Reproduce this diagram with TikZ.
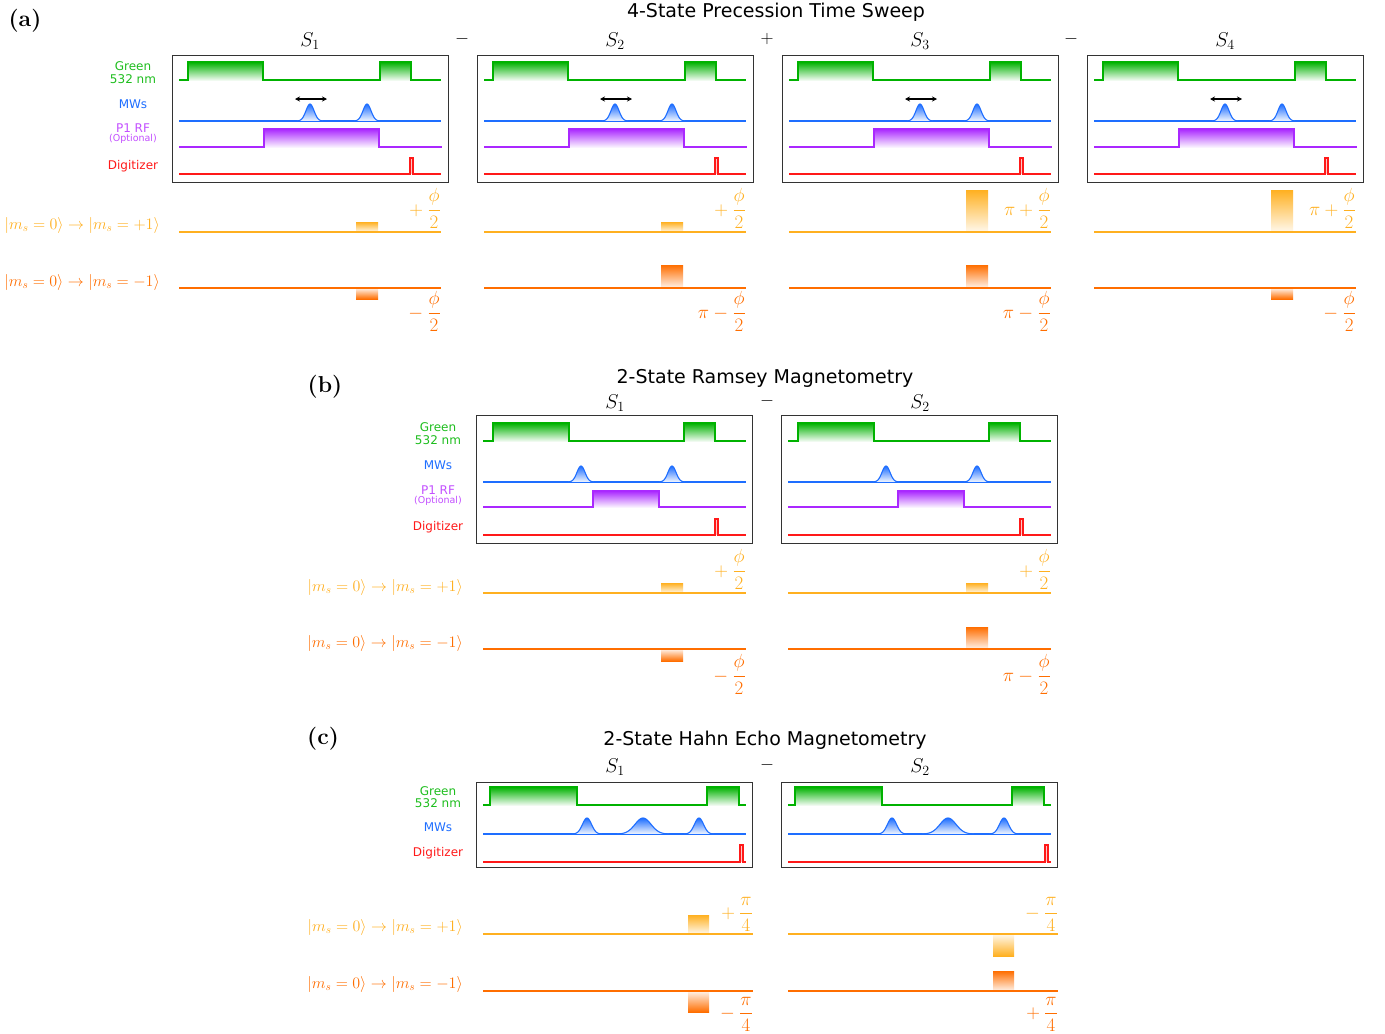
\RequirePackage{fix-cm}
\documentclass[tikz,border=0pt]{standalone}
\usepackage{amsmath}
\usepackage{fontspec}
\newfontfamily\dvsans{DejaVu Sans}
\usetikzlibrary{arrows.meta}

\definecolor{grn}{RGB}{0,178,0}
\definecolor{grntxt}{RGB}{30,190,30}
\definecolor{blu}{RGB}{30,110,255}
\definecolor{pur}{RGB}{170,40,255}
\definecolor{purtxt}{RGB}{195,80,255}
\definecolor{dig}{RGB}{255,25,25}
\definecolor{yel}{RGB}{255,176,32}
\definecolor{org}{RGB}{255,110,0}

% phase fraction with a heavier bar
\newcommand{\phfrac}[2]{\genfrac{}{}{1.4pt}{0}{#1}{#2}}

\tikzset{
  sig/.style={line width=1.1pt, line join=miter},
  frame/.style={draw=black!80, line width=1pt},
  chan/.style={font=\dvsans\fontsize{12}{13}\selectfont, inner sep=0pt},
  optl/.style={font=\dvsans\fontsize{9.5}{10}\selectfont, inner sep=0pt, text=purtxt},
  ttl/.style={font=\dvsans\fontsize{19}{22}\selectfont, inner sep=0pt},
  slab/.style={font=\fontsize{20}{23}\selectfont, inner sep=0pt},
  opr/.style={font=\fontsize{18}{21}\selectfont, inner sep=0pt},
  tag/.style={font=\fontsize{23}{26}\selectfont\bfseries, inner sep=0pt},
  state/.style={font=\fontsize{16}{19}\selectfont, inner sep=0pt, anchor=east},
  frc/.style={font=\fontsize{19}{22}\selectfont, inner sep=0pt, anchor=base east},
}

% green laser trace: #1 left, #2 base, #3 top, #4-#7 pulse edges, #8 trace end
\newcommand{\greentr}[8]{%
  \shade[top color=grn, middle color=grn!85, bottom color=grn!6] ({#1+#4},#3) rectangle ({#1+#5},#2);
  \shade[top color=grn, middle color=grn!85, bottom color=grn!6] ({#1+#6},#3) rectangle ({#1+#7},#2);
  \draw[grn, sig] ({#1+7},#2) -- ({#1+#4},#2) -- ({#1+#4},#3) -- ({#1+#5},#3) -- ({#1+#5},#2)
     -- ({#1+#6},#2) -- ({#1+#6},#3) -- ({#1+#7},#3) -- ({#1+#7},#2) -- ({#1+#8},#2);
}
% RF trace: #1 left, #2 base, #3 top, #4 #5 pulse edges
\newcommand{\rftr}[5]{%
  \shade[top color=pur, middle color=pur!60, bottom color=pur!6] ({#1+#4},#3) rectangle ({#1+#5},#2);
  \draw[pur, sig] ({#1+7},#2) -- ({#1+#4},#2) -- ({#1+#4},#3) -- ({#1+#5},#3) -- ({#1+#5},#2) -- ({#1+270},#2);
}
% digitizer trace: #1 left, #2 base, #3 top, #4 gate start, #5 trace end
\newcommand{\digtr}[5]{%
  \fill[dig!25] ({#1+#4},#3) rectangle ({#1+#4+3},#2);
  \draw[dig, sig] ({#1+7},#2) -- ({#1+#4},#2) -- ({#1+#4},#3) -- ({#1+#4+3},#3) -- ({#1+#4+3},#2) -- ({#1+#5},#2);
}
% microwave pulse: #1 centre, #2 base, #3 height, #4 width
\newcommand{\mwpk}[4]{%
  \shade[top color=blu, bottom color=blu!6] plot[domain=-3.2:3.2, samples=41]
     ({#1+\x*#4},{#2-#3*exp(-0.5*(\x)^2)}) -- cycle;
  \draw[blu, sig] plot[domain=-3.2:3.2, samples=41] ({#1+\x*#4},{#2-#3*exp(-0.5*(\x)^2)});
}
% phase blocks above / below a transition line: x1, x2, line y, far y, colour
\newcommand{\blkup}[5]{\shade[top color=#5, middle color=#5, bottom color=#5!8] (#1,#4) rectangle (#2,#3);}
\newcommand{\blkdn}[5]{\shade[top color=#5!8, middle color=#5, bottom color=#5] (#1,#3) rectangle (#2,#4);}

\begin{document}
\begin{tikzpicture}[x=1pt, y=-1pt]
\useasboundingbox (0,0) rectangle (1385,1034);
\fill[white] (0,0) rectangle (1385,1034);

% ===================== (a) =====================
\node[tag] (tagA) at (25,21) {(a)};
\node[ttl] (ttlA) at (776,12) {4-State Precession Time Sweep};
\node[chan, text=grntxt] (gA1) at (133,66) {Green};
\node[chan, text=grntxt] (gA2) at (133,79) {532 nm};
\node[chan, text=blu] (mA) at (133,104) {MWs};
\node[chan, text=purtxt] (rA1) at (133,128) {P1 RF};
\node[optl] (rA2) at (133,139) {(Optional)};
\node[chan, text=dig] (dA) at (133,166) {Digitizer};
\node[state, text=yel] (pA) at (160,225) {$|m_s = 0\rangle \to |m_s = +1\rangle$};
\node[state, text=org] (nA) at (160,282) {$|m_s = 0\rangle \to |m_s = -1\rangle$};
\node[opr] (opA1) at (462,39) {$-$};
\node[opr] (opA2) at (767,39) {$+$};
\node[opr] (opA3) at (1071,39) {$-$};

\foreach \L/\k in {172/1,477/2,782/3,1087/4}{
  \node[slab] (sA\k) at ({\L+138},41) {$S_{\k}$};
  \greentr{\L}{80}{62}{16}{91}{208}{239}{269}
  \draw[blu, sig] ({\L+7},121) -- ({\L+269},121);
  \mwpk{\L+138}{121}{17}{4}
  \mwpk{\L+195}{121}{17}{4}
  \draw[{Stealth[length=5pt,width=5pt]}-{Stealth[length=5pt,width=5pt]}, line width=1.1pt] ({\L+123},99) -- ({\L+155},99);
  \rftr{\L}{147}{129}{92}{207}
  \digtr{\L}{174}{158}{238}{269}
  \draw[frame] (\L,55) rectangle ({\L+276},182);
}
% phase blocks
\blkup{356}{378}{232}{222}{yel}   \blkdn{356}{378}{288}{299}{org}
\blkup{661}{683}{232}{222}{yel}   \blkup{661}{683}{288}{265}{org}
\blkup{966}{988}{232}{190}{yel}   \blkup{966}{988}{288}{265}{org}
\blkup{1271}{1293}{232}{190}{yel} \blkdn{1271}{1293}{288}{299}{org}
\foreach \L in {172,477,782,1087}{
  \draw[yel, sig] ({\L+7},232) -- ({\L+269},232);
  \draw[org, sig] ({\L+7},288) -- ({\L+269},288);
}
\node[frc, text=yel] (fA1u) at (441,215) {${}+\phfrac{\phi}{2}$};
\node[frc, text=org] (fA1d) at (441,318) {${}-\phfrac{\phi}{2}$};
\node[frc, text=yel] (fA2u) at (746,215) {${}+\phfrac{\phi}{2}$};
\node[frc, text=org] (fA2d) at (746,318) {$\pi-\phfrac{\phi}{2}$};
\node[frc, text=yel] (fA3u) at (1051,215) {$\pi+\phfrac{\phi}{2}$};
\node[frc, text=org] (fA3d) at (1051,318) {$\pi-\phfrac{\phi}{2}$};
\node[frc, text=yel] (fA4u) at (1356,215) {$\pi+\phfrac{\phi}{2}$};
\node[frc, text=org] (fA4d) at (1356,318) {${}-\phfrac{\phi}{2}$};

% ===================== (b) =====================
\node[tag] (tagB) at (325,387) {(b)};
\node[ttl] (ttlB) at (765,378) {2-State Ramsey Magnetometry};
\node[chan, text=grntxt] (gB1) at (438,427) {Green};
\node[chan, text=grntxt] (gB2) at (438,440) {532 nm};
\node[chan, text=blu] (mB) at (438,465) {MWs};
\node[chan, text=purtxt] (rB1) at (438,490) {P1 RF};
\node[optl] (rB2) at (438,501) {(Optional)};
\node[chan, text=dig] (dB) at (438,527) {Digitizer};
\node[state, text=yel] (pB) at (463,587) {$|m_s = 0\rangle \to |m_s = +1\rangle$};
\node[state, text=org] (nB) at (463,643) {$|m_s = 0\rangle \to |m_s = -1\rangle$};
\node[opr] (opB) at (767,401) {$-$};

\foreach \L/\k in {476/1,781/2}{
  \node[slab] (sB\k) at ({\L+139},403) {$S_{\k}$};
  \greentr{\L}{441}{423}{17}{93}{208}{239}{270}
  \draw[blu, sig] ({\L+7},482) -- ({\L+270},482);
  \mwpk{\L+105}{482}{16}{4}
  \mwpk{\L+196}{482}{16}{4}
  \rftr{\L}{507}{491}{117}{183}
  \digtr{\L}{535}{519}{239}{270}
  \draw[frame] (\L,415) rectangle ({\L+276},543);
}
\blkup{661}{683}{593}{583}{yel} \blkdn{661}{683}{649}{661}{org}
\blkup{966}{988}{593}{583}{yel} \blkup{966}{988}{649}{627}{org}
\foreach \L in {476,781}{
  \draw[yel, sig] ({\L+7},593) -- ({\L+270},593);
  \draw[org, sig] ({\L+7},649) -- ({\L+270},649);
}
\node[frc, text=yel] (fB1u) at (746,576) {${}+\phfrac{\phi}{2}$};
\node[frc, text=org] (fB1d) at (746,681) {${}-\phfrac{\phi}{2}$};
\node[frc, text=yel] (fB2u) at (1051,576) {${}+\phfrac{\phi}{2}$};
\node[frc, text=org] (fB2d) at (1051,681) {$\pi-\phfrac{\phi}{2}$};

% ===================== (c) =====================
\node[tag] (tagC) at (323,739) {(c)};
\node[ttl] (ttlC) at (765,740) {2-State Hahn Echo Magnetometry};
\node[chan, text=grntxt] (gC1) at (438,791) {Green};
\node[chan, text=grntxt] (gC2) at (438,803) {532 nm};
\node[chan, text=blu] (mC) at (438,827) {MWs};
\node[chan, text=dig] (dC) at (438,853) {Digitizer};
\node[state, text=yel] (pC) at (463,927) {$|m_s = 0\rangle \to |m_s = +1\rangle$};
\node[state, text=org] (nC) at (463,984) {$|m_s = 0\rangle \to |m_s = -1\rangle$};
\node[opr] (opC) at (767,765) {$-$};

\foreach \L/\k in {476/1,781/2}{
  \node[slab] (sC\k) at ({\L+139},767) {$S_{\k}$};
  \greentr{\L}{805}{787}{14}{101}{231}{263}{270}
  \draw[blu, sig] ({\L+7},834) -- ({\L+270},834);
  \mwpk{\L+111}{834}{16}{4.5}
  \mwpk{\L+167}{834}{16}{8}
  \mwpk{\L+223}{834}{16}{4.5}
  \digtr{\L}{862}{845}{264}{270}
  \draw[frame] (\L,782) rectangle ({\L+276},867);
}
\blkup{688}{709}{934}{915}{yel} \blkdn{688}{709}{991}{1012}{org}
\blkdn{993}{1014}{934}{956}{yel} \blkup{993}{1014}{991}{971}{org}
\foreach \L in {476,781}{
  \draw[yel, sig] ({\L+7},934) -- ({\L+277},934);
  \draw[org, sig] ({\L+7},991) -- ({\L+277},991);
}
\node[frc, text=yel] (fC1u) at (753,918) {${}+\phfrac{\pi}{4}$};
\node[frc, text=org] (fC1d) at (753,1018) {${}-\phfrac{\pi}{4}$};
\node[frc, text=yel] (fC2u) at (1058,918) {${}-\phfrac{\pi}{4}$};
\node[frc, text=org] (fC2d) at (1058,1018) {${}+\phfrac{\pi}{4}$};
\end{tikzpicture}
\end{document}
